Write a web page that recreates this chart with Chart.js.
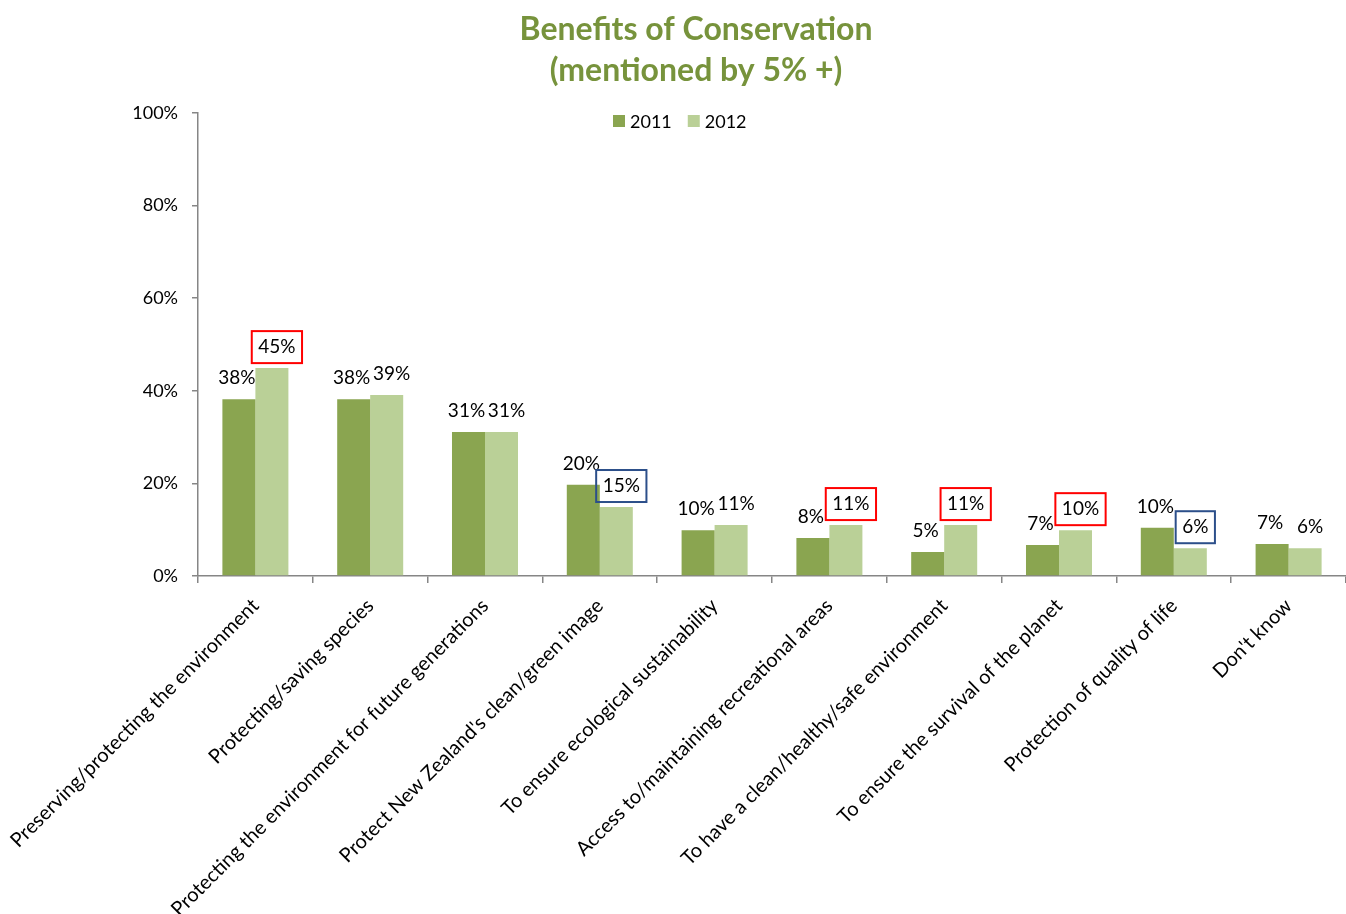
<!DOCTYPE html>
<html>
<head>
<meta charset="utf-8">
<title>Benefits of Conservation</title>
<script src="https://cdn.jsdelivr.net/npm/chart.js@4.4.0/dist/chart.umd.min.js"></script>
<style>
  html, body { margin: 0; padding: 0; background: #fff; }
  canvas { display: block; }
</style>
</head>
<body>
<canvas id="chart" width="1346" height="914"></canvas>
<script>
var titleLines = ["Benefits of Conservation", "(mentioned by 5% +)"];

var categories = [
    "Preserving/protecting the environment",
    "Protecting/saving species",
    "Protecting the environment for future generations",
    "Protect New Zealand's clean/green image",
    "To ensure ecological sustainability",
    "Access to/maintaining recreational areas",
    "To have a clean/healthy/safe environment",
    "To ensure the survival of the planet",
    "Protection of quality of life",
    "Don't know"
];

var seriesNames = ["2011", "2012"];
var values2011 = [38.2, 38.2, 31.1, 19.7, 9.9, 8.2, 5.2, 6.7, 10.4, 6.9];
var values2012 = [44.9, 39.1, 31.1, 14.9, 11.0, 11.0, 11.0, 9.9, 6.0, 6.0];

var yTicks = [0, 20, 40, 60, 80, 100];

// 2012 labels that are boxed in the source: red = went up, blue = went down
var boxed2012 = ["red", "", "", "blue", "", "red", "red", "red", "blue", ""];

var FONT = "Lato, 'Open Sans', sans-serif";
var dark = "#8aa550";
var light = "#bad097";

// title + legend drawn by hand so they sit where the original has them
var headerPlugin = {
    id: 'header',
    afterDraw: function(chart) {
        var ctx = chart.ctx;
        ctx.save();
        ctx.fillStyle = '#77933c';
        ctx.font = 'bold 32px ' + FONT;
        ctx.textAlign = 'center';
        ctx.textBaseline = 'middle';
        titleLines.forEach(function(line, i) {
            ctx.fillText(line, 696, 30 + i * 41);
        });

        ctx.font = '18px ' + FONT;
        ctx.textAlign = 'left';
        var x = 613;
        chart.data.datasets.forEach(function(ds) {
            ctx.fillStyle = ds.backgroundColor;
            ctx.fillRect(x, 115, 12, 12);
            ctx.fillStyle = '#000';
            ctx.fillText(ds.label, x + 17, 122);
            x += 17 + ctx.measureText(ds.label).width + 16;
        });
        ctx.restore();
    }
};

var valueLabels = {
    id: 'valueLabels',
    afterDatasetsDraw: function(chart) {
        var ctx = chart.ctx;
        ctx.save();
        ctx.font = '19px ' + FONT;
        ctx.textAlign = 'center';
        ctx.textBaseline = 'middle';
        chart.data.datasets.forEach(function(ds, di) {
            chart.getDatasetMeta(di).data.forEach(function(bar, i) {
                var txt = Math.round(ds.data[i]) + '%';
                // nudge the pair apart a little so neighbouring labels don't touch
                var x = bar.x + (di === 0 ? -2 : 5);
                var y = bar.y - 21;
                ctx.fillStyle = '#000';
                ctx.fillText(txt, x, y);
                var box = di === 1 ? boxed2012[i] : '';
                if (box) {
                    var w = ctx.measureText(txt).width + 13;
                    ctx.strokeStyle = box === 'red' ? '#ff0000' : '#2c4f8a';
                    ctx.lineWidth = 2;
                    ctx.strokeRect(x - w / 2, y - 16, w, 32);
                }
            });
        });
        ctx.restore();
    }
};

var chart = new Chart(document.getElementById('chart'), {
    type: 'bar',
    data: {
        labels: categories,
        datasets: [{
            label: seriesNames[0],
            data: values2011,
            backgroundColor: dark,
            categoryPercentage: 0.575,
            barPercentage: 1.0
        },
        {
            label: seriesNames[1],
            data: values2012,
            backgroundColor: light,
            categoryPercentage: 0.575,
            barPercentage: 1.0
        }]
    },
    options: {
        responsive: false,
        animation: false,
        devicePixelRatio: 1,
        layout: { padding: { top: 113, right: 0, bottom: 0, left: 0 } },
        plugins: {
            legend: { display: false },
            title: { display: false },
            tooltip: { enabled: false }
        },
        scales: {
            x: {
                grid: {
                    offset: true,
                    drawOnChartArea: false,
                    tickLength: 7,
                    color: '#868686',
                    lineWidth: 1.5
                },
                border: { color: '#868686', width: 1.5 },
                ticks: {
                    color: '#000',
                    font: { family: FONT, size: 20 },
                    minRotation: 45,
                    maxRotation: 45,
                    autoSkip: false,
                    padding: 11
                },
                afterFit: function(scale) {
                    scale.height = 338;
                    scale.paddingLeft = 0;
                    scale.paddingRight = 0;
                }
            },
            y: {
                min: 0,
                max: 100,
                afterBuildTicks: function(scale) {
                    scale.ticks = yTicks.map(function(v) { return { value: v }; });
                },
                grid: {
                    drawOnChartArea: false,
                    tickLength: 6,
                    color: '#868686',
                    lineWidth: 1.5
                },
                border: { color: '#868686', width: 1.5 },
                ticks: {
                    color: '#000',
                    font: { family: FONT, size: 18 },
                    padding: 14,
                    callback: function(v) { return v + '%'; }
                },
                afterFit: function(scale) { scale.width = 198; }
            }
        }
    },
    plugins: [headerPlugin, valueLabels]
});
</script>
</body>
</html>
